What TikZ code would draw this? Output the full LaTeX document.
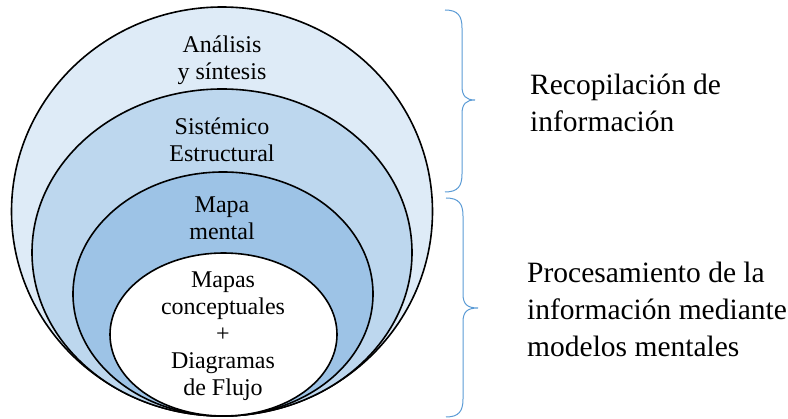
\documentclass[tikz,border=0pt]{standalone}
\usepackage{fontspec}
\setmainfont{Liberation Serif}
\definecolor{ringA}{HTML}{DEEBF7}
\definecolor{ringB}{HTML}{BDD7EE}
\definecolor{ringC}{HTML}{9DC3E6}
\definecolor{braceblue}{HTML}{5B9BD5}
\begin{document}
\begin{tikzpicture}[x=1pt,y=-1pt,
  ring/.style={draw=black,line width=1.6pt},
  intext/.style={align=center,inner sep=0pt,font=\fontsize{24}{27}\selectfont},
  sidetext/.style={align=left,anchor=west,inner sep=0pt,font=\fontsize{29.5}{37}\selectfont},
  bracepath/.style={draw=braceblue,line width=1pt}]
\useasboundingbox (0,0) rectangle (788,419);
% rings
\path[ring,fill=ringA] (222,211.5) ellipse [x radius=210.5pt,y radius=204.5pt];
\path[ring,fill=ringB] (222,252.5) ellipse [x radius=190pt,y radius=163.5pt];
\path[ring,fill=ringC] (223,294) ellipse [x radius=150pt,y radius=122pt];
\path[ring,fill=white] (223.5,334.5) ellipse [x radius=113.5pt,y radius=81.5pt];
% texts
\node[intext] (analisis) at (222,60) {Análisis\\y síntesis};
\node[intext] (sistemico) at (222,140) {Sistémico\\Estructural};
\node[intext] (mapa) at (222,218) {Mapa\\mental};
\node[intext] (mapas) at (223,336) {Mapas\\conceptuales\\+\\Diagramas\\de Flujo};
% braces
\coordinate (b1s) at (445,10);
\coordinate (b1t) at (475,100);
\coordinate (b1e) at (445,192);
\draw[bracepath] (b1s) .. controls (458,10) and (462,16) .. (462,28)
  -- (462,86) .. controls (462,96) and (466,100) .. (b1t)
  .. controls (466,100) and (462,104) .. (462,114)
  -- (462,174) .. controls (462,186) and (458,192) .. (b1e);
\coordinate (b2s) at (446,198);
\coordinate (b2t) at (478,308);
\coordinate (b2e) at (446,417);
\draw[bracepath] (b2s) .. controls (459,198) and (463,204) .. (463,216)
  -- (463,294) .. controls (463,304) and (467,308) .. (b2t)
  .. controls (467,308) and (463,312) .. (463,322)
  -- (463,399) .. controls (463,411) and (459,417) .. (b2e);
\node[sidetext] (recop) at (530,103) {Recopilación de\\información};
\node[sidetext] (proc) at (527,309) {Procesamiento de la\\información mediante\\modelos mentales};
\end{tikzpicture}
\end{document}
